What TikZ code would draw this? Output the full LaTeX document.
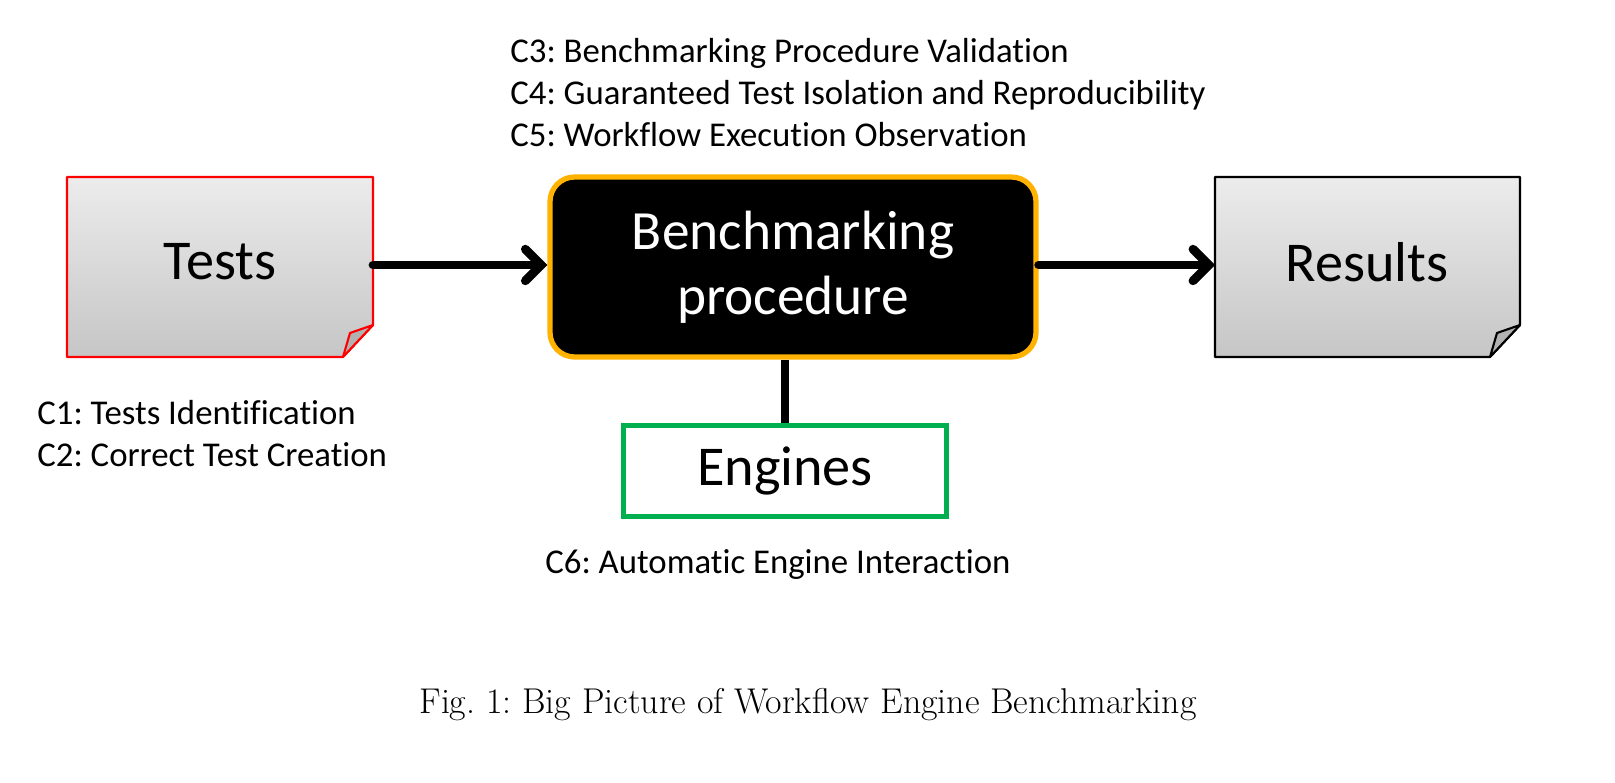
\documentclass[tikz,border=0pt]{standalone}
\usepackage{fontspec}
\setmainfont{Latin Modern Roman}
\newfontfamily\carl[Ligatures=NoCommon]{Carlito}
\usetikzlibrary{arrows.meta}
\frenchspacing
\begin{document}
\begin{tikzpicture}[x=0.02cm,y=-0.02cm,
  lab/.style={font=\carl\fontsize{19.8}{22}\selectfont,anchor=west,inner sep=0},
  arr/.style={line width=5pt,-{Straight Barb[length=9pt,width=18pt,line cap=round]},line cap=round}]
\useasboundingbox (0,0) rectangle (1615,783);
% Tests
\fill[top color=gray!15,bottom color=gray!45] (67,177)--(373,177)--(373,325)--(343,357)--(67,357)--cycle;
\draw[red,line width=1.2pt,line join=round] (67,177)--(373,177)--(373,325)--(343,357)--(67,357)--cycle;
\filldraw[fill=gray!60,draw=red,line width=1.2pt,line join=round] (373,325)--(350,333)--(343,357)--cycle;
\node[font=\carl\fontsize{32}{36}\selectfont] (tests) at (220,262) {Tests};
\coordinate (tr) at (373,265);
% Results
\fill[top color=gray!15,bottom color=gray!45] (1215,177)--(1520,177)--(1520,325)--(1490,357)--(1215,357)--cycle;
\draw[black,line width=1.2pt,line join=round] (1215,177)--(1520,177)--(1520,325)--(1490,357)--(1215,357)--cycle;
\filldraw[fill=gray!60,draw=black,line width=1.2pt,line join=round] (1520,325)--(1497,333)--(1490,357)--cycle;
\node[font=\carl\fontsize{32}{36}\selectfont] (results) at (1367,262) {Results};
\coordinate (rl) at (1215,265);
% Bench
\node[draw=orange!60!yellow,fill=black,line width=3pt,rounded corners=14pt,minimum width=486*0.02cm,minimum height=180*0.02cm,text=white,align=center,font=\carl\fontsize{31.5}{37}\selectfont] (bench) at (793,267) {Benchmarking\\procedure};
% Engines
\node[draw={rgb,255:red,0;green,176;blue,80},line width=2.5pt,minimum width=323*0.02cm,minimum height=91*0.02cm,font=\carl\fontsize{32}{36}\selectfont] (eng) at (785,471) {Engines};
\draw[arr] (tr) -- (bench.west|-tr);
\draw[arr] (bench.east|-rl) -- (rl);
\draw[line width=5pt] (bench.south-|eng.north) -- (eng.north);
% labels
\node[lab] (c3) at (510,53) {C3: Benchmarking Procedure Validation};
\node[lab] (c4) at (510,95) {C4: Guaranteed Test Isolation and Reproducibility};
\node[lab] (c5) at (510,135) {C5: Workflow Execution Observation};
\node[lab] (c1) at (37,413) {C1: Tests Identification};
\node[lab] (c2) at (37,455) {C2: Correct Test Creation};
\node[lab] (c6) at (545,565) {C6: Automatic Engine Interaction};
\node[font=\fontsize{20.4}{24}\selectfont] (cap) at (808,705) {Fig. 1: Big Picture of Workflow Engine Benchmarking};
\end{tikzpicture}
\end{document}
